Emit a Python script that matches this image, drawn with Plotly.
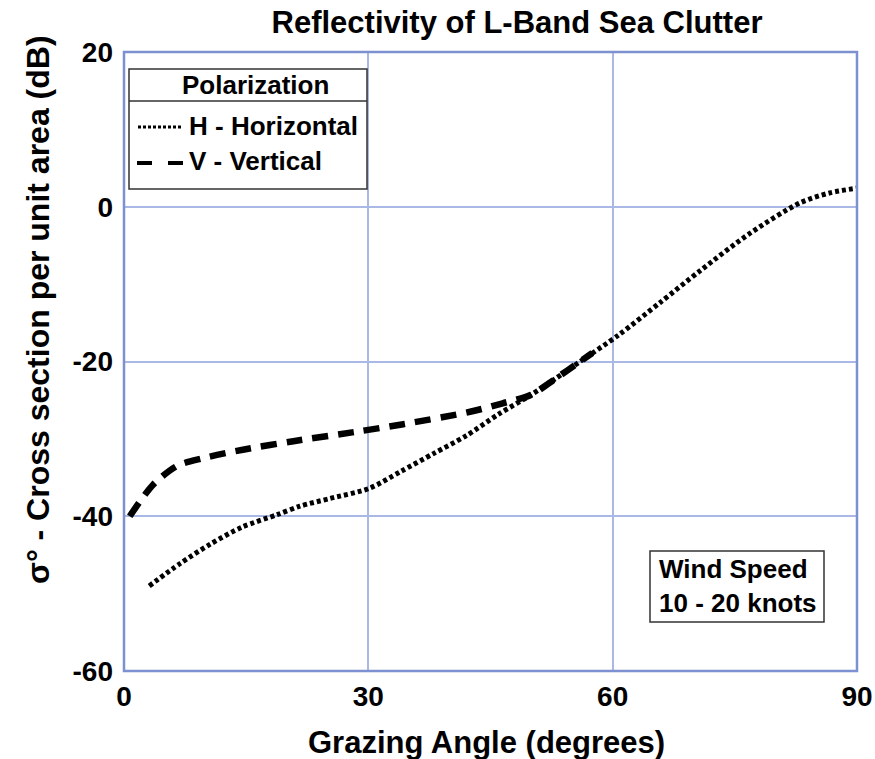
import plotly.graph_objects as go

# Grazing angle (degrees) and reflectivity sigma0 (dB) for each polarization
h_angle = [3.1, 6.9, 10.6, 14.5, 18.8, 21.6, 25.3, 30.1, 34.0, 38.0, 42.0, 46.0,
           50.0, 53.0, 56.0, 60.7, 65.8, 70.7, 76.9, 83.0, 86.7, 90.0]
h_sigma = [-49.0, -46.1, -43.6, -41.4, -39.8, -38.7, -37.7, -36.4, -34.2, -31.9,
           -29.6, -26.8, -24.3, -22.2, -20.0, -16.6, -12.4, -8.3, -3.4, 0.5, 1.8, 2.4]

v_angle = [0.7, 3.6, 6.5, 9.7, 14.6, 20.8, 29.0, 34.3, 42.5, 46.5, 50.0, 53.0, 56.0, 57.5]
v_sigma = [-40.0, -35.9, -33.5, -32.5, -31.4, -30.3, -29.0, -28.1, -26.5, -25.4,
           -24.3, -22.2, -20.0, -18.9]

x_ticks = [0, 30, 60, 90]
y_ticks = [-60, -40, -20, 0, 20]

FONT = "Liberation Sans, Arial, Helvetica, sans-serif"
FRAME = "#7d90cf"
GRID = "#a9b8e4"

W, H = 875, 759
ML, MR, MT, MB = 124, 18, 52, 88
PW, PH = W - ML - MR, H - MT - MB


def px(x):
    return (x - ML) / PW


def py(y):
    return (H - MB - y) / PH


fig = go.Figure()

fig.add_trace(go.Scatter(
    x=h_angle, y=h_sigma, mode="lines", name="H - Horizontal",
    line=dict(color="black", width=5, dash="4px,3px", shape="spline", smoothing=0.8),
    showlegend=False,
))
fig.add_trace(go.Scatter(
    x=v_angle, y=v_sigma, mode="lines", name="V - Vertical",
    line=dict(color="black", width=6.5, dash="16px,10px", shape="spline", smoothing=0.8),
    showlegend=False,
))

shapes = [
    # plot frame
    dict(type="rect", xref="paper", yref="paper", x0=0, x1=1, y0=0, y1=1,
         line=dict(color=FRAME, width=2.5), layer="above"),
    # polarization key box
    dict(type="rect", xref="paper", yref="paper", x0=px(129), x1=px(367),
         y0=py(189), y1=py(69), fillcolor="white",
         line=dict(color="#333333", width=1.5)),
    dict(type="line", xref="paper", yref="paper", x0=px(129), x1=px(367),
         y0=py(101), y1=py(101), line=dict(color="#333333", width=1.5)),
    dict(type="line", xref="paper", yref="paper", x0=px(138), x1=px(181),
         y0=py(127), y1=py(127), line=dict(color="black", width=3, dash="3px,2px")),
    dict(type="line", xref="paper", yref="paper", x0=px(137), x1=px(184),
         y0=py(163), y1=py(163), line=dict(color="black", width=4, dash="15px,16px")),
    # wind speed box
    dict(type="rect", xref="paper", yref="paper", x0=px(650), x1=px(824),
         y0=py(622), y1=py(551), fillcolor="white",
         line=dict(color="#333333", width=1.5)),
]

annotations = [
    dict(text="Polarization", x=px(255), y=py(85), xref="paper", yref="paper",
         showarrow=False, font=dict(family=FONT, size=26, color="black"),
         xanchor="center", yanchor="middle"),
    dict(text="H - Horizontal", x=px(187), y=py(126), xref="paper", yref="paper",
         showarrow=False, font=dict(family=FONT, size=26, color="black"),
         xanchor="left", yanchor="middle"),
    dict(text="V - Vertical", x=px(187), y=py(161), xref="paper", yref="paper",
         showarrow=False, font=dict(family=FONT, size=26, color="black"),
         xanchor="left", yanchor="middle"),
    dict(text="Wind Speed<br>10 - 20 knots", x=px(657), y=py(586), xref="paper",
         yref="paper", showarrow=False, align="left",
         font=dict(family=FONT, size=26, color="black"),
         xanchor="left", yanchor="middle"),
    dict(text="<b>σ° - Cross section per unit area (dB)</b>", x=px(38), y=py(310),
         xref="paper", yref="paper", showarrow=False, textangle=-90,
         font=dict(family=FONT, size=32, color="black"),
         xanchor="center", yanchor="middle"),
    dict(text="<b>Grazing Angle (degrees)</b>", x=px(486), y=py(742),
         xref="paper", yref="paper", showarrow=False,
         font=dict(family=FONT, size=31, color="black"),
         xanchor="center", yanchor="middle"),
]
for a in annotations[:4]:
    a["text"] = "<b>" + a["text"] + "</b>"

fig.update_layout(
    width=W, height=H,
    margin=dict(l=ML, r=MR, t=MT, b=MB, autoexpand=False),
    paper_bgcolor="white", plot_bgcolor="white",
    title=dict(text="<b>Reflectivity of L-Band Sea Clutter</b>", x=517 / W, xanchor="center",
               y=1 - 22 / H, yanchor="middle",
               font=dict(family=FONT, size=31, color="black")),
    xaxis=dict(range=[0, 90], tickvals=x_ticks, ticktext=[str(v) for v in x_ticks],
               showgrid=True, gridcolor=GRID, gridwidth=1.5, zeroline=False,
               showline=False, ticks="", ticklabelstandoff=6, automargin=False,
               tickfont=dict(family=FONT, size=28, color="black", weight="bold")),
    yaxis=dict(range=[-60, 20], tickvals=y_ticks, ticktext=[str(v) for v in y_ticks],
               showgrid=True, gridcolor=GRID, gridwidth=1.5, zeroline=False,
               showline=False, ticks="", ticklabelstandoff=10, automargin=False,
               tickfont=dict(family=FONT, size=28, color="black", weight="bold")),
    shapes=shapes,
    annotations=annotations,
    showlegend=False,
)

fig.write_html("out.html")
